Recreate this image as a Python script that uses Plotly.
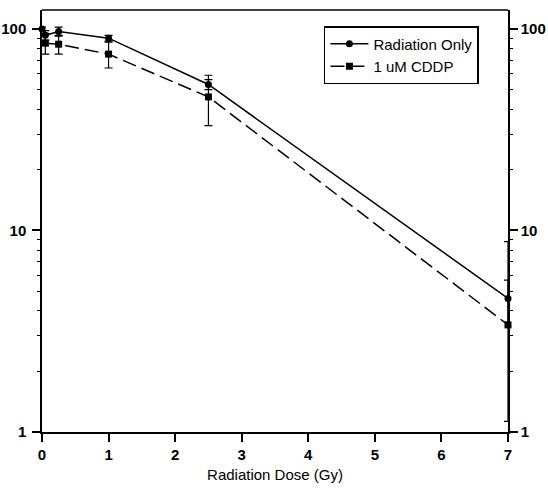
import plotly.graph_objects as go

# Data
rad_x = [0, 0.05, 0.25, 1, 2.5, 7]
rad_y = [100, 93, 97, 90, 53, 4.6]
rad_err_up = [2, 5, 5, 3, 3, 4.2]
rad_err_down = [2, 5, 5, 3, 3, 1.1]

cddp_x = [0.05, 0.25, 1, 2.5, 7]
cddp_y = [85, 84, 75, 46, 3.4]
cddp_err = [10, 9, 11, 12.9, 2.27]

x_ticks = [0, 1, 2, 3, 4, 5, 6, 7]
y_ticks = [1, 10, 100]
y_ticktext = ["1", "10", "100"]

FONT = "Liberation Sans, Arial, sans-serif"

fig = go.Figure()
fig.add_trace(go.Scatter(
    x=rad_x, y=rad_y, name="Radiation Only", mode="lines+markers",
    line=dict(color="black", width=1.5),
    marker=dict(symbol="circle", size=7, color="black"),
    error_y=dict(type="data", array=rad_err_up, arrayminus=rad_err_down,
                 color="black", thickness=1.2, width=4),
    cliponaxis=False,
))
fig.add_trace(go.Scatter(
    x=cddp_x, y=cddp_y, name="1 uM CDDP", mode="lines+markers",
    line=dict(color="black", width=1.5, dash="14px,6px"),
    marker=dict(symbol="square", size=7, color="black"),
    error_y=dict(type="data", array=cddp_err, color="black", thickness=1.2, width=4),
    cliponaxis=False,
))
# invisible trace to activate the right-hand mirrored axis
fig.add_trace(go.Scatter(
    x=rad_x, y=rad_y, yaxis="y2", mode="lines", line=dict(width=0),
    opacity=0, showlegend=False, hoverinfo="skip",
))

yaxis_common = dict(
    type="log", range=[0, 2.094], tickvals=y_ticks, ticktext=y_ticktext,
    showline=True, linecolor="black", linewidth=1.5,
    ticks="outside", ticklen=8, tickwidth=1.5, tickcolor="black",
    minor=dict(ticks="outside", ticklen=3, tickwidth=1, tickcolor="black", dtick="D1", showgrid=False),
    showgrid=False, zeroline=False, automargin=False,
    tickfont=dict(family=FONT, size=15, color="black", weight="bold"),
)

fig.update_layout(
    width=548, height=496,
    margin=dict(l=42, r=40, t=10, b=64),
    paper_bgcolor="white", plot_bgcolor="white",
    font=dict(family=FONT, color="black"),
    xaxis=dict(
        range=[0, 7], tickvals=x_ticks,
        showline=True, linecolor="black", linewidth=1.5,
        ticks="outside", ticklen=8, tickwidth=1.5, tickcolor="black",
        showgrid=False, zeroline=False, automargin=False,
        tickfont=dict(family=FONT, size=15, color="black", weight="bold"),
        title=dict(text="Radiation Dose (Gy)", standoff=8,
                   font=dict(family=FONT, size=15, color="black")),
    ),
    yaxis=dict(**yaxis_common, ticklabelstandoff=3),
    yaxis2=dict(**yaxis_common, overlaying="y", side="right"),
    legend=dict(
        x=0.605, y=0.962, xanchor="left", yanchor="top",
        bordercolor="black", borderwidth=1.5, bgcolor="white",
        font=dict(family=FONT, size=15, color="black"),
        itemwidth=38, tracegroupgap=0,
    ),
    shapes=[dict(type="line", xref="paper", yref="paper", x0=0, x1=1, y0=1, y1=1,
                 line=dict(color="black", width=1.5))],
    showlegend=True,
)

fig.write_html("out.html")
